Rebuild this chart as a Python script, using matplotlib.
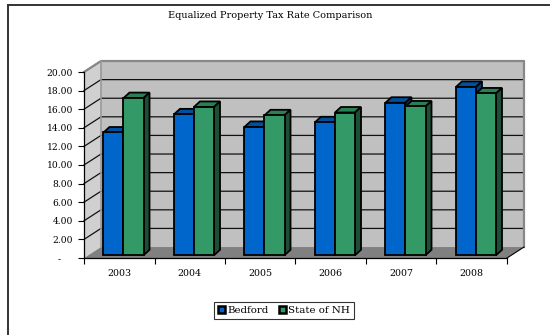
import matplotlib.pyplot as plt
from matplotlib.patches import Polygon, Patch
from matplotlib.lines import Line2D

years = ['2003', '2004', '2005', '2006', '2007', '2008']
bedford = [13.2, 15.15, 13.8, 14.3, 16.4, 18.1]
state_nh = [16.9, 15.95, 15.05, 15.35, 16.0, 17.4]
series_names = ['Bedford', 'State of NH']
y_ticks = [0, 2, 4, 6, 8, 10, 12, 14, 16, 18, 20]

plt.rcParams['font.family'] = ['DejaVu Serif']

# depth of the box (walls) and of each column, in data units
DX, DY = 0.241, 1.18
BDX, BDY = 0.085, 0.59
BAR_START = 0.25      # fraction of the box depth where the columns sit
BAR_W = 0.284

face = {'Bedford': ('#0066cc', '#0050a0', '#003d7a'),
        'State of NH': ('#339966', '#2a7f55', '#1d4f36')}


def tick_label(v):
    return '-    ' if v == 0 else '{0:.2f}'.format(v)


def main():
    fig = plt.figure(figsize=(5.5, 3.35), dpi=100)
    ax = fig.add_axes([84 / 550, 77 / 335, 423 / 550, 186 / 335])
    n = len(years)
    ax.set_xlim(0, n)
    ax.set_ylim(0, 20)
    ax.patch.set_visible(False)

    # walls and floor
    ax.add_patch(Polygon([(0, 0), (DX, DY), (DX, 20 + DY), (0, 20)],
                         closed=True, fc='#d0d0d0', ec='none', zorder=0, clip_on=False))
    ax.add_patch(Polygon([(DX, DY), (n + DX, DY), (n + DX, 20 + DY), (DX, 20 + DY)],
                         closed=True, fc='#c0c0c0', ec='none', zorder=0, clip_on=False))
    ax.add_patch(Polygon([(0, 0), (n, 0), (n + DX, DY), (DX, DY)],
                         closed=True, fc='#808080', ec='none', zorder=0.5, clip_on=False))

    # gridlines across the side wall and back wall
    for v in y_ticks[1:]:
        ax.plot([0, DX, n + DX], [v, v + DY, v + DY], color='#111111', lw=0.9,
                zorder=1, clip_on=False)
    # wall edges
    ax.plot([0, DX, n + DX, n + DX], [20, 20 + DY, 20 + DY, DY], color='#888888',
            lw=1.6, zorder=1.2, clip_on=False)
    ax.plot([DX, DX], [DY, 20 + DY], color='#999999', lw=1.2, zorder=1.2, clip_on=False)
    ax.plot([n, n + DX], [0, DY], color='black', lw=0.8, zorder=1.2, clip_on=False)

    # columns: front face via bar(), top and side as polygons
    x_shift = BAR_START * DX
    y0 = BAR_START * DY
    gap = (1 - 2 * BAR_W) / 2
    for i in range(n):
        for j, (name, vals) in enumerate(zip(series_names, [bedford, state_nh])):
            front, top, side = face[name]
            x0 = i + gap + j * BAR_W + x_shift
            v = vals[i]
            z = 2 + i * 0.1 + j * 0.01
            ax.bar(x0, v, width=BAR_W, bottom=y0, align='edge', color=front,
                   edgecolor='black', linewidth=1.3, zorder=z + 0.005, clip_on=False)
            ax.add_patch(Polygon([(x0, y0 + v), (x0 + BAR_W, y0 + v),
                                  (x0 + BAR_W + BDX, y0 + v + BDY), (x0 + BDX, y0 + v + BDY)],
                                 closed=True, fc=top, ec='black', lw=1.3, zorder=z,
                                 clip_on=False))
            ax.add_patch(Polygon([(x0 + BAR_W, y0), (x0 + BAR_W + BDX, y0 + BDY),
                                  (x0 + BAR_W + BDX, y0 + v + BDY), (x0 + BAR_W, y0 + v)],
                                 closed=True, fc=side, ec='black', lw=1.3, zorder=z,
                                 clip_on=False))

    # axes
    for s in ['top', 'right']:
        ax.spines[s].set_visible(False)
    for s in ['left', 'bottom']:
        ax.spines[s].set_linewidth(0.9)
        ax.spines[s].set_zorder(3)
    ax.set_yticks(y_ticks)
    ax.set_yticklabels([tick_label(v) for v in y_ticks])
    ax.set_xticks(range(n + 1))
    ax.set_xticklabels([])
    ax.set_xticks([i + 0.5 for i in range(n)], minor=True)
    ax.set_xticklabels(years, minor=True)
    ax.tick_params(axis='x', which='major', length=4, width=0.8, direction='out')
    ax.tick_params(axis='x', which='minor', length=0, pad=8, labelsize=6.8)
    ax.tick_params(axis='y', length=4, width=0.8, pad=4, labelsize=6.6)

    fig.text(270 / 550, 1 - 15 / 335, 'Equalized Property Tax Rate Comparison',
             ha='center', va='center', fontsize=7)

    handles = [Patch(facecolor=face[s][0], edgecolor='black', linewidth=1.8)
               for s in series_names]
    leg = fig.legend(handles, series_names, loc='center',
                     bbox_to_anchor=(284 / 550, 1 - 310.5 / 335), ncol=2,
                     fontsize=7.4, frameon=True, fancybox=False, handlelength=0.7,
                     handleheight=0.75, handletextpad=0.2, columnspacing=1.0,
                     borderpad=0.35, borderaxespad=0)
    leg.get_frame().set_edgecolor('black')
    leg.get_frame().set_linewidth(0.8)

    # outer chart border
    fig.add_artist(Line2D([8 / 550, 8 / 550], [0, 1 - 5 / 335], color='#333333', lw=1.4))
    fig.add_artist(Line2D([8 / 550, 1], [1 - 5 / 335, 1 - 5 / 335], color='#333333', lw=1.4))

    fig.savefig('out.png', dpi=100)


if __name__ == '__main__':
    main()
